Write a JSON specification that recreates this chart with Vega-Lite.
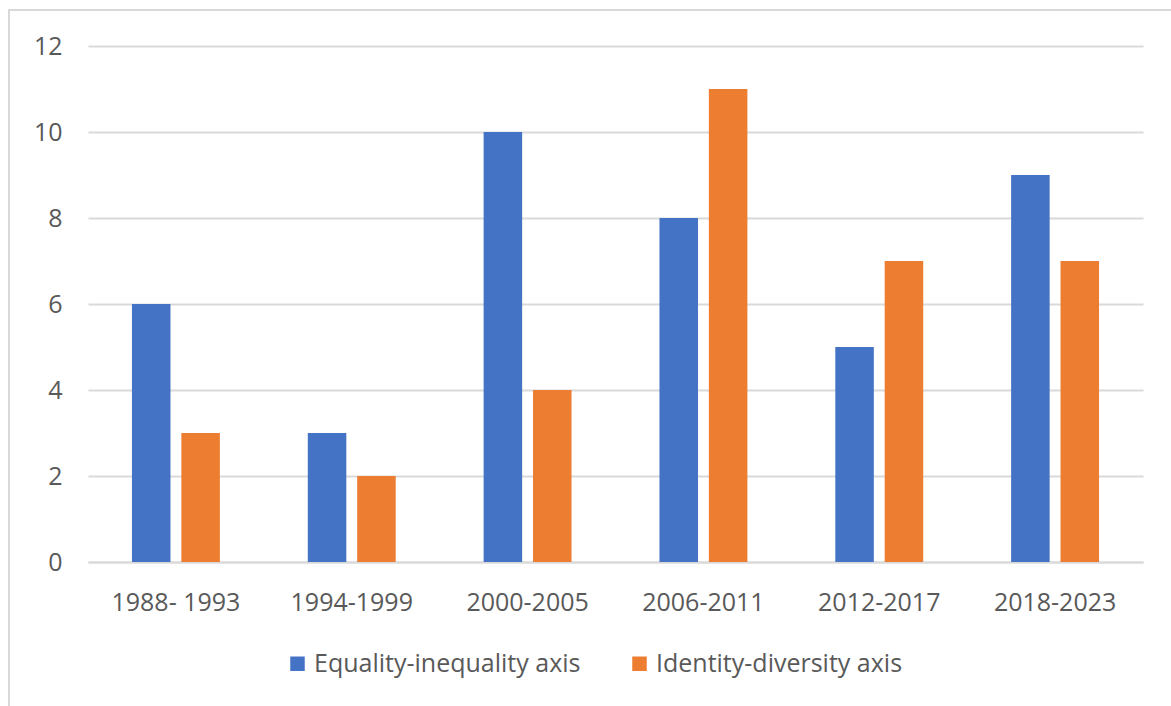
{
  "$schema": "https://vega.github.io/schema/vega-lite/v6.json",
  "autosize": {"type": "none"},
  "width": 1164,
  "height": 698,
  "padding": {"left": 9, "top": 10, "right": 0, "bottom": 0},
  "background": "white",
  "config": {
    "view": {"stroke": "#d9d9d9", "strokeWidth": 2},
    "font": "Open Sans"
  },
  "data": {
    "values": [
      {"period": "1988- 1993", "series": "Equality-inequality axis", "value": 6},
      {"period": "1988- 1993", "series": "Identity-diversity axis", "value": 3},
      {"period": "1994-1999", "series": "Equality-inequality axis", "value": 3},
      {"period": "1994-1999", "series": "Identity-diversity axis", "value": 2},
      {"period": "2000-2005", "series": "Equality-inequality axis", "value": 10},
      {"period": "2000-2005", "series": "Identity-diversity axis", "value": 4},
      {"period": "2006-2011", "series": "Equality-inequality axis", "value": 8},
      {"period": "2006-2011", "series": "Identity-diversity axis", "value": 11},
      {"period": "2012-2017", "series": "Equality-inequality axis", "value": 5},
      {"period": "2012-2017", "series": "Identity-diversity axis", "value": 7},
      {"period": "2018-2023", "series": "Equality-inequality axis", "value": 9},
      {"period": "2018-2023", "series": "Identity-diversity axis", "value": 7}
    ]
  },
  "mark": {"type": "bar"},
  "encoding": {
    "x": {
      "field": "period", "type": "nominal", "sort": null,
      "scale": {"range": [79, 1134], "paddingInner": 0.5, "paddingOuter": 0.25},
      "axis": {
        "title": null, "labelAngle": 0, "offset": -146,
        "domainColor": "#d9d9d9", "domainWidth": 2, "ticks": false,
        "labelPadding": 28, "labelFontSize": 25, "labelColor": "#595959", "grid": false
      }
    },
    "xOffset": {"field": "series", "type": "nominal", "sort": null, "scale": {"paddingInner": 0.22}},
    "y": {
      "field": "value", "type": "quantitative",
      "scale": {"domain": [0, 12], "range": [552, 36], "nice": false},
      "axis": {
        "title": null, "offset": -79, "values": [0, 2, 4, 6, 8, 10, 12],
        "ticks": false, "domain": false, "grid": true,
        "gridColor": "#d9d9d9", "gridWidth": 2,
        "labelPadding": 26, "labelFontSize": 25, "labelColor": "#595959"
      }
    },
    "color": {
      "field": "series", "type": "nominal", "sort": null,
      "scale": {"range": ["#4472C4", "#ED7D31"]},
      "legend": {
        "title": null, "orient": "none", "legendX": 276, "legendY": 641,
        "direction": "horizontal", "symbolType": "square", "symbolSize": 210,
        "symbolStrokeWidth": 0, "labelFontSize": 25, "labelColor": "#595959",
        "labelLimit": 0, "columnPadding": 46, "labelOffset": 4, "padding": 0
      }
    }
  }
}
